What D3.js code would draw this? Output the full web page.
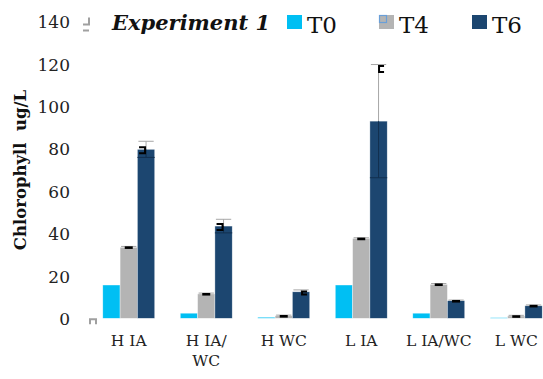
<!DOCTYPE html>
<html>
<head>
<meta charset="utf-8">
<script src="https://cdn.jsdelivr.net/npm/d3@7"></script>
<style>
  html, body { margin: 0; padding: 0; background: #fff; }
  svg { display: block; }
</style>
</head>
<body>
<svg id="chart" width="543" height="379"></svg>
<script>
// Chlorophyll concentration per treatment at three sampling times
const categories = ["H IA", "H IA/WC", "H WC", "L IA", "L IA/WC", "L WC"];
const categoryLines = [["H IA"], ["H IA/", "WC"], ["H WC"], ["L IA"], ["L IA/WC"], ["L WC"]];
const seriesNames = ["T0", "T4", "T6"];
const t0 = [15.7, 2.4, 0.5, 15.7, 2.4, 0.3];
const t4 = [33.5, 11.5, 1.2, 37.7, 16.0, 1.1];
const t6 = [79.7, 43.5, 12.5, 93.0, 8.3, 5.9];
const t4Err = [0.4, 0.4, 0.3, 0.3, 0.4, 0.3];
const t6Err = [3.8, 3.2, 0.9, 26.7, 0.3, 0.4];
const yTicks = [0, 20, 40, 60, 80, 100, 120, 140];

const colors = { T0: "#00BFF3", T4: "#B4B4B4", T6: "#1C4670" };

const svg = d3.select("#chart");
const serif = "'DejaVu Serif', serif";

const x0 = d3.scaleBand().domain(categories).range([90, 555])
  .paddingInner(0.33).paddingOuter(0.165);
const x1 = d3.scaleBand().domain(seriesNames).range([0, x0.bandwidth()]);
const y = d3.scaleLinear().domain([0, 140]).range([318.3, 21.5]);

const rows = categories.map((c, i) => ({
  cat: c,
  values: [
    { cat: c, key: "T0", v: t0[i], err: 0 },
    { cat: c, key: "T4", v: t4[i], err: t4Err[i] },
    { cat: c, key: "T6", v: t6[i], err: t6Err[i] }
  ]
}));

// y axis
const yAxis = svg.append("g")
  .attr("transform", "translate(90,0)")
  .call(d3.axisLeft(y).tickValues(yTicks).tickSize(0).tickPadding(20));
yAxis.select(".domain").remove();
yAxis.selectAll("text")
  .attr("font-family", serif).attr("font-size", 17).attr("fill", "#222")
  .attr("dy", "0.36em");

// axis title
svg.append("text")
  .attr("transform", "translate(26,170) rotate(-90)")
  .attr("text-anchor", "middle")
  .attr("font-family", serif).attr("font-weight", "bold").attr("font-size", 16.5)
  .attr("fill", "#111")
  .attr("xml:space", "preserve")
  .text("Chlorophyll  ug/L");

// small gray ticks beside the value axis
svg.append("path")
  .attr("d", `M83,${y(140) + 3} h6 v-7 M83,${y(140) + 9} h6`)
  .attr("fill", "none").attr("stroke", "#A0A0A0").attr("stroke-width", 2);
svg.append("path")
  .attr("d", `M90,${y(0) + 6} v-5 h6 v5`)
  .attr("fill", "none").attr("stroke", "#A0A0A0").attr("stroke-width", 2);

// bars
const groups = svg.append("g").selectAll("g").data(rows).join("g")
  .attr("transform", d => `translate(${x0(d.cat)},0)`);

groups.selectAll("rect").data(d => d.values).join("rect")
  .attr("x", d => x1(d.key))
  .attr("y", d => y(d.v))
  .attr("width", x1.bandwidth())
  .attr("height", d => y(0) - y(d.v))
  .attr("fill", d => colors[d.key])
  .attr("stroke", "rgba(255,255,255,0.6)").attr("stroke-width", 0.6);

// error bars
const errs = groups.selectAll("g.err").data(d => d.values.filter(v => v.err > 0)).join("g")
  .attr("class", "err");
// upper part (gray)
errs.append("line")
  .attr("x1", d => x1(d.key) + x1.bandwidth() / 2)
  .attr("x2", d => x1(d.key) + x1.bandwidth() / 2)
  .attr("y1", d => y(d.v)).attr("y2", d => y(d.v + d.err))
  .attr("stroke", "#A6A6A6").attr("stroke-width", 1);
errs.append("line")
  .attr("x1", d => x1(d.key) + 1)
  .attr("x2", d => x1(d.key) + x1.bandwidth() - 1)
  .attr("y1", d => y(d.v + d.err)).attr("y2", d => y(d.v + d.err))
  .attr("stroke", "#A6A6A6").attr("stroke-width", 1);
// lower part (inside the bar)
errs.filter(d => d.err > 1).append("line")
  .attr("x1", d => x1(d.key) + x1.bandwidth() / 2)
  .attr("x2", d => x1(d.key) + x1.bandwidth() / 2)
  .attr("y1", d => y(d.v)).attr("y2", d => y(d.v - d.err))
  .attr("stroke", "#12304F").attr("stroke-width", 1);
errs.filter(d => d.err > 1).append("line")
  .attr("x1", d => x1(d.key))
  .attr("x2", d => x1(d.key) + x1.bandwidth())
  .attr("y1", d => y(d.v - d.err)).attr("y2", d => y(d.v - d.err))
  .attr("stroke", "#12304F").attr("stroke-width", 1);

// black end markers
errs.append("path")
  .attr("d", d => {
    const cx = x1(d.key) + x1.bandwidth() / 2;
    if (d.key === "T4" || d.err < 0.6) {
      return `M${cx - 4},${y(d.v + d.err) + 1.2} h8`;
    }
    if (d.cat === "L IA") {
      const top = y(d.v + d.err);
      return `M${cx + 5.5},${top + 1.5} h-5 v6 h5`;
    }
    if (d.cat === "H WC") {
      const top = y(d.v + d.err);
      return `M${cx + 6},${top + 1.5} h-5 v3 h5`;
    }
    const top = y(d.v) - 2;
    return `M${cx - 7},${top} h6 v6 h-6`;
  })
  .attr("fill", "none").attr("stroke", "#000")
  .attr("stroke-width", d => (d.key === "T4" || d.err < 0.6) ? 2.6 : 2);

// category labels
const xg = svg.append("g");
categories.forEach((c, i) => {
  const t = xg.append("text")
    .attr("x", x0(c) + x0.bandwidth() / 2)
    .attr("y", 346)
    .attr("text-anchor", "middle")
    .attr("font-family", serif).attr("font-size", 15.5).attr("fill", "#222");
  categoryLines[i].forEach((line, k) => {
    t.append("tspan").attr("x", x0(c) + x0.bandwidth() / 2)
      .attr("dy", k === 0 ? 0 : 20).text(line);
  });
});

// title
svg.append("text")
  .attr("x", 112).attr("y", 30)
  .attr("font-family", serif).attr("font-weight", "bold").attr("font-style", "italic")
  .attr("font-size", 21).attr("fill", "#111")
  .text("Experiment 1");

// legend
const legendX = [287, 379, 472];
const legend = svg.append("g").selectAll("g").data(seriesNames).join("g")
  .attr("transform", (d, i) => `translate(${legendX[i]},15)`);
legend.append("rect").attr("width", 15).attr("height", 14)
  .attr("fill", d => colors[d]);
legend.append("text").attr("x", 20).attr("y", 18)
  .attr("font-family", serif).attr("font-size", 23).attr("fill", "#111")
  .text(d => d);
legend.filter(d => d === "T4").append("rect")
  .attr("x", 0.5).attr("y", 0.5).attr("width", 7).attr("height", 7)
  .attr("fill", "none").attr("stroke", "#6A9FD8").attr("stroke-width", 1.2);
</script>
</body>
</html>
